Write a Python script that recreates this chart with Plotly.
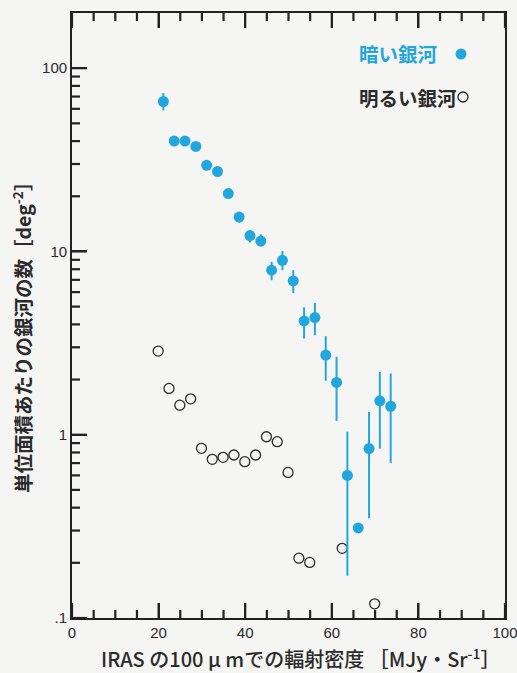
import plotly.graph_objects as go

# Faint galaxies (filled) and bright galaxies (open) vs IRAS 100um surface brightness
faint_x = [21.1, 23.6, 26.1, 28.6, 31.1, 33.6, 36.1, 38.6, 41.1, 43.6, 46.1,
           48.6, 51.1, 53.6, 56.1, 58.6, 61.1, 63.6, 66.1, 68.6, 71.1, 73.6]
faint_y = [65.8, 40.0, 40.0, 37.4, 29.5, 27.3, 20.7, 15.4, 12.2, 11.4, 7.9,
           8.95, 6.9, 4.18, 4.36, 2.72, 1.93, 0.60, 0.31, 0.84, 1.53, 1.43]
faint_err_plus = [7.3, 1.5, 1.5, 1.4, 1.2, 1.1, 0.9, 0.7, 0.8, 1.0, 0.87,
                  1.1, 1.0, 0.77, 0.88, 0.73, 0.73, 0.44, 0.0, 0.49, 0.67, 0.73]
faint_err_minus = [7.0, 1.5, 1.5, 1.4, 1.2, 1.1, 0.9, 1.0, 1.0, 0.75, 0.93,
                   1.05, 0.97, 0.83, 0.87, 0.75, 0.74, 0.43, 0.0, 0.49, 0.69, 0.73]

bright_x = [19.9, 22.4, 24.9, 27.4, 29.9, 32.4, 34.9, 37.4, 39.9, 42.4, 44.9,
            47.4, 49.9, 52.4, 54.9, 62.4, 69.9]
bright_y = [2.86, 1.79, 1.45, 1.57, 0.843, 0.734, 0.753, 0.775, 0.713, 0.775,
            0.975, 0.916, 0.623, 0.212, 0.201, 0.240, 0.1195]

x_major = [0, 20, 40, 60, 80, 100]
x_minor = [v for v in range(5, 100, 5) if v % 20 != 0]
y_major = [0.1, 1, 10, 100]
y_major_text = [".1", "1", "10", "100"]
y_minor = [m * d for d in (0.1, 1, 10) for m in range(2, 10)]

X_RANGE = [0, 100]
Y_RANGE = [-1, 2.30103]  # log10 of 0.1 .. 200

BLUE = "#22a6de"
INK = "#2b2b2b"
AXIS = "#222222"
BG = "#f5f5f3"
JP = "Noto Sans CJK JP"
NUM = "Liberation Sans"

# plot-area geometry in pixels
W, H = 517, 673
ML, MR, MT, MB = 72, 12, 13, 55
PW, PH = W - ML - MR, H - MT - MB

MAJOR_LEN, MINOR_LEN_X, MINOR_LEN_Y = 15, 8, 8
PX_PER_X = PW / (X_RANGE[1] - X_RANGE[0])
PX_PER_DECADE = PH / (Y_RANGE[1] - Y_RANGE[0])
Y_LO, Y_HI = 10 ** Y_RANGE[0], 10 ** Y_RANGE[1]


def px_to_paper(px, py):
    return (px - ML) / PW, (H - MB - py) / PH


fig = go.Figure()

fig.add_trace(go.Scatter(
    x=bright_x, y=bright_y, mode="markers",
    marker=dict(symbol="circle-open", size=10, color=INK, line=dict(width=1.3, color=INK)),
    showlegend=False,
))

fig.add_trace(go.Scatter(
    x=faint_x, y=faint_y, mode="markers",
    marker=dict(symbol="circle", size=11, color=BLUE, line=dict(width=0)),
    error_y=dict(type="data", symmetric=False, array=faint_err_plus,
                 arrayminus=faint_err_minus, color=BLUE, thickness=2, width=0),
    showlegend=False,
))

# Inward tick marks (bottom + top on x, left on y), one segment per trace
tick_style = dict(mode="lines", line=dict(color=AXIS, width=2.2),
                  hoverinfo="skip", showlegend=False)
for vals, length in ((x_major, MAJOR_LEN), (x_minor, MINOR_LEN_X)):
    f = 10 ** (length / PX_PER_DECADE)
    for v in vals:
        fig.add_trace(go.Scatter(x=[v, v], y=[Y_LO, Y_LO * f], **tick_style))
        fig.add_trace(go.Scatter(x=[v, v], y=[Y_HI, Y_HI / f], **tick_style))
for vals, length in ((y_major, MAJOR_LEN), (y_minor, MINOR_LEN_Y)):
    dx = length / PX_PER_X
    for v in vals:
        fig.add_trace(go.Scatter(x=[X_RANGE[0], X_RANGE[0] + dx], y=[v, v], **tick_style))

base = dict(showgrid=False, zeroline=False, automargin=False,
            ticks="inside", ticklen=MAJOR_LEN, tickwidth=2, tickcolor=AXIS,
            showline=True, linecolor=AXIS, linewidth=1.8,
            ticklabeloverflow="allow", tickfont=dict(family=NUM, size=15, color=INK))

fig.update_layout(
    xaxis=dict(**base, range=X_RANGE, tickmode="array", tickvals=x_major, mirror="ticks"),
    yaxis=dict(**base, type="log", range=Y_RANGE, tickmode="array", tickvals=y_major,
               ticktext=y_major_text, mirror=True),
)

# Axis titles
yx, yy = px_to_paper(22, 333)
fig.add_annotation(
    text="単位面積あたりの銀河の数［deg<sup>-2</sup>］", textangle=-90,
    xref="paper", yref="paper", x=yx, y=yy, xanchor="center", yanchor="middle",
    showarrow=False, font=dict(family=JP, size=19.5, color=INK, weight="bold"),
)
tx, ty = px_to_paper(301, 658)
fig.add_annotation(
    text="IRAS の100 μ mでの輻射密度 ［MJy・Sr<sup>-1</sup>］",
    xref="paper", yref="paper", x=tx, y=ty, xanchor="center", yanchor="middle",
    showarrow=False, font=dict(family=JP, size=20, color=INK, weight=500),
)

# Key in the upper right
kx, ky1 = px_to_paper(357, 54)
_, ky2 = px_to_paper(357, 97)
fig.add_annotation(
    text="暗い銀河", xref="paper", yref="paper", x=kx, y=ky1,
    xanchor="left", yanchor="middle", showarrow=False,
    font=dict(family=JP, size=19.5, color=BLUE, weight="bold"),
)
fig.add_annotation(
    text="明るい銀河", xref="paper", yref="paper", x=kx, y=ky2,
    xanchor="left", yanchor="middle", showarrow=False,
    font=dict(family=JP, size=19.5, color=INK, weight="bold"),
)


def key_circle(cx, cy, r, **style):
    x0, y0 = px_to_paper(cx - r, cy + r)
    x1, y1 = px_to_paper(cx + r, cy - r)
    fig.add_shape(type="circle", xref="paper", yref="paper",
                  x0=x0, x1=x1, y0=y0, y1=y1, opacity=1, **style)


key_circle(461, 54, 5.5, fillcolor=BLUE, line=dict(width=0))
key_circle(463, 97, 5, fillcolor="rgba(0,0,0,0)", line=dict(width=1.3, color=INK))

fig.update_layout(
    template="none",
    width=W, height=H,
    margin=dict(l=ML, r=MR, t=MT, b=MB, autoexpand=False),
    paper_bgcolor=BG, plot_bgcolor=BG,
    showlegend=False,
)

fig.write_html("out.html")
